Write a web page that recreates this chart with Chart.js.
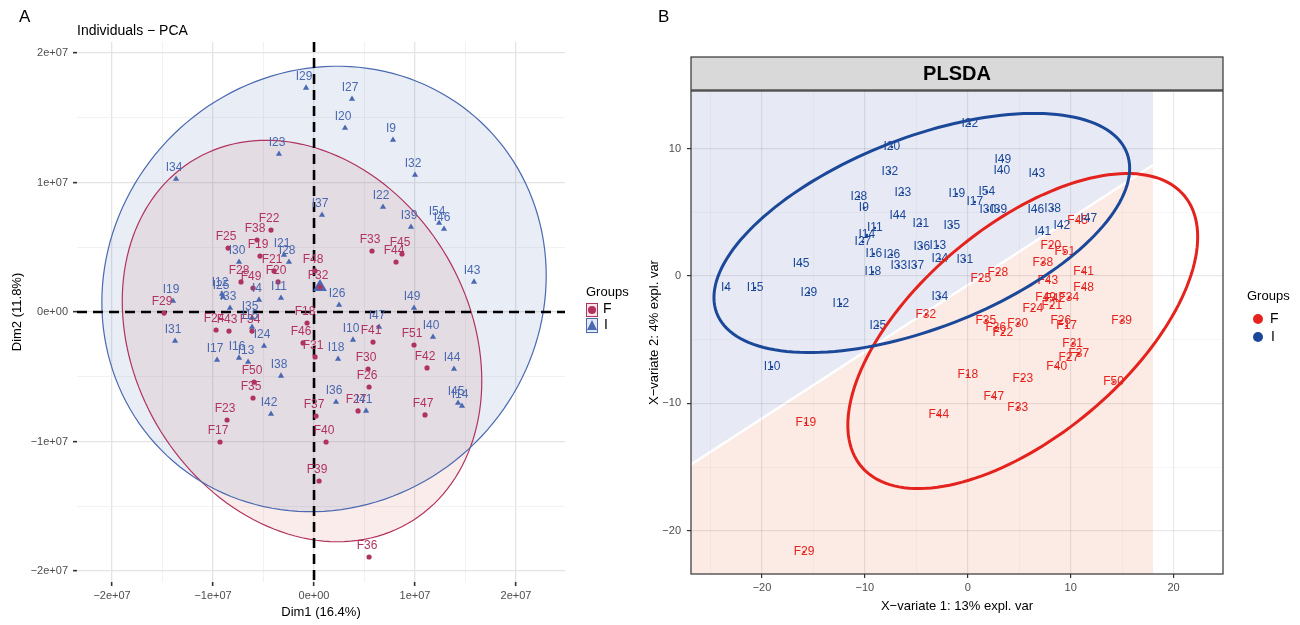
<!DOCTYPE html>
<html>
<head>
<meta charset="utf-8">
<script src="https://cdn.jsdelivr.net/npm/chart.js@4.4.0/dist/chart.umd.min.js"></script>
<style>
body { margin: 0; background: #fff; }
#wrap { position: relative; width: 1300px; height: 625px; }
canvas { position: absolute; top: 0; }
</style>
</head>
<body>
<div id="wrap">
<canvas id="pca_chart" width="640" height="625" style="left:0px"></canvas>
<canvas id="plsda_chart" width="660" height="625" style="left:640px"></canvas>
</div>
<script>
// ---- PCA (panel A), values in millions ----
var pcaFNames = ["F22","F38","F25","F33","F45","F44","F19","F21","F20","F28","F49","F29","F48","F32","F18","F24","F43","F34","F46","F31","F41","F51","F42","F30","F26","F50","F35","F27","F37","F47","F23","F17","F40","F39","F36"];
var pcaFX = [-4.26,-5.64,-8.51,5.74,8.71,8.12,-5.35,-3.96,-3.56,-7.23,-6.04,-14.85,0.10,0.59,-0.69,-9.70,-8.42,-6.14,-1.09,0.10,5.84,9.90,11.19,5.35,5.45,-5.94,-6.04,4.36,0.20,10.99,-8.61,-9.31,1.19,0.50,5.45];
var pcaFY = [6.33,5.56,4.94,4.71,4.48,3.86,4.32,3.17,2.32,2.32,1.85,-0.08,3.17,1.93,-0.85,-1.39,-1.47,-1.47,-2.39,-3.47,-2.32,-2.55,-4.32,-4.40,-5.79,-5.41,-6.64,-7.64,-8.03,-7.95,-8.34,-10.04,-10.04,-13.05,-18.92];

var pcaINames = ["I29","I27","I20","I9","I23","I32","I34","I22","I37","I39","I54","I46","I30","I21","I28","I12","I25","I4","I11","I33","I19","I26","I49","I43","I35","I15","I47","I31","I24","I10","I40","I17","I16","I13","I18","I44","I38","I36","I41","I42","I45","I14"];
var pcaIX = [-0.79,3.76,3.07,7.82,-3.47,10.00,-13.66,6.83,0.79,9.60,12.38,12.87,-7.43,-2.97,-2.48,-9.11,-9.01,-5.45,-3.27,-8.32,-13.96,2.48,9.90,15.84,-6.14,-6.14,6.44,-13.76,-4.95,3.86,11.78,-9.60,-7.43,-6.53,2.38,13.86,-3.27,2.18,5.15,-4.26,14.26,14.65];
var pcaIY = [17.30,16.45,14.21,13.28,12.20,10.58,10.27,8.11,7.49,6.56,6.87,6.41,3.86,4.40,3.86,1.39,1.16,0.93,1.08,0.31,0.85,0.54,0.31,2.32,-0.46,-1.16,-1.16,-2.24,-2.63,-2.16,-1.93,-3.71,-3.55,-3.86,-3.63,-4.40,-4.94,-6.95,-7.64,-7.88,-7.03,-7.26];

var pcaIMean = [0.59, 1.93];

// confidence ellipses: [F, I]
var pcaEllCx = [-1.19, 0.99];
var pcaEllCy = [-2.24, 1.78];
var pcaEllRx = [17.8, 22.0];
var pcaEllRy = [15.5, 17.2];
var pcaEllPhi = [-0.2, 0.06];

// ---- PLSDA (panel B) ----
var plsdaFNames = ["F45","F20","F51","F38","F28","F25","F41","F43","F48","F49","F42","F34","F24","F21","F32","F35","F36","F22","F30","F26","F17","F39","F31","F37","F27","F40","F18","F23","F50","F47","F33","F44","F19","F29"];
var plsdaFX = [10.68,8.06,9.42,7.28,2.91,1.26,11.26,7.77,11.26,7.57,8.45,9.81,6.31,8.16,-4.08,1.75,2.72,3.40,4.85,9.03,9.61,14.95,10.19,10.78,9.81,8.64,0.00,5.34,14.17,2.52,4.85,-2.82,-15.73,-15.92];
var plsdaFY = [4.32,2.36,1.89,1.02,0.24,-0.24,0.31,-0.39,-0.94,-1.73,-1.81,-1.73,-2.59,-2.36,-3.06,-3.53,-4.08,-4.48,-3.77,-3.53,-3.93,-3.53,-5.34,-6.13,-6.44,-7.15,-7.78,-8.09,-8.33,-9.51,-10.37,-10.92,-11.55,-21.68];

var plsdaINames = ["I22","I20","I32","I28","I23","I19","I9","I44","I11","I14","I21","I35","I27","I16","I26","I36","I13","I33","I37","I24","I31","I45","I18","I4","I15","I29","I12","I34","I25","I10","I49","I40","I43","I54","I17","I30","I39","I46","I38","I42","I41","I47"];
var plsdaIX = [0.19,-7.38,-7.57,-10.58,-6.31,-1.07,-10.10,-6.80,-9.03,-9.81,-4.56,-1.55,-10.19,-9.13,-7.38,-4.47,-2.91,-6.70,-5.05,-2.72,-0.29,-16.21,-9.22,-23.50,-20.68,-15.44,-12.33,-2.72,-8.74,-19.03,3.40,3.30,6.70,1.84,0.68,1.94,3.01,6.60,8.25,9.13,7.28,11.75];
var plsdaIY = [11.94,10.13,8.17,6.21,6.52,6.44,5.34,4.71,3.77,3.22,4.08,3.93,2.67,1.73,1.65,2.28,2.36,0.79,0.79,1.34,1.26,0.94,0.31,-0.94,-0.94,-1.34,-2.20,-1.65,-3.93,-7.15,9.11,8.25,8.01,6.60,5.81,5.18,5.18,5.18,5.26,3.93,3.46,4.48];

var plsdaEllCx = [5.34, -4.47];
var plsdaEllCy = [-4.32, 3.38];
var plsdaEllRx = [17.0, 20.2];
var plsdaEllRy = [12.37, 9.39];
var plsdaEllPhi = [0.64, 0.57];

// prediction background: boundary line and right limit
var plsdaBoundaryX = [-27, 18];
var plsdaBoundaryY = [-14.85, 8.72];

var FONT = "'Liberation Sans', Arial, sans-serif";
Chart.defaults.font.family = FONT;
Chart.defaults.animation = false;

var colFA = '#B0335F';
var colIA = '#4A69B0';
var colFB = '#E5231E';
var colIB = '#1B4899';

function toPoints(xs, ys) {
    var out = [];
    for (var i = 0; i < xs.length; i++) {
        out.push({x: xs[i], y: ys[i]});
    }
    return out;
}

function ellipsePath(ctx, sx, sy, cx, cy, rx, ry, phi) {
    ctx.beginPath();
    for (var i = 0; i <= 160; i++) {
        var t = i / 160 * Math.PI * 2;
        var px = sx.getPixelForValue(cx + rx * Math.cos(t));
        var py = sy.getPixelForValue(cy + ry * Math.sin(t + phi));
        if (i == 0) ctx.moveTo(px, py);
        else ctx.lineTo(px, py);
    }
    ctx.closePath();
}

function isMajor(c) {
    return c.tick && Math.round(c.tick.value) % 10 === 0;
}

function pcaTick(value) {
    if (Math.round(value) % 10 !== 0) return '';
    if (value === 0) return '0e+00';
    var n = Math.abs(value) / 10;
    return (value < 0 ? '\u2212' : '') + n + 'e+07';
}

function plainTick(value) {
    if (Math.round(value) % 10 !== 0) return '';
    return value < 0 ? '\u2212' + Math.abs(value) : String(value);
}

// ---------- panel A ----------
var pcaPlugin = {
    id: 'pcaExtras',
    beforeDatasetsDraw: function(chart) {
        var ctx = chart.ctx;
        var sx = chart.scales.x, sy = chart.scales.y;
        var area = chart.chartArea;
        var fills = ['rgba(205,95,85,0.12)', 'rgba(70,105,185,0.12)'];
        var strokes = [colFA, colIA];
        ctx.save();
        for (var g = 0; g < 2; g++) {
            ellipsePath(ctx, sx, sy, pcaEllCx[g], pcaEllCy[g], pcaEllRx[g], pcaEllRy[g], pcaEllPhi[g]);
            ctx.fillStyle = fills[g];
            ctx.fill();
        }
        for (var g = 0; g < 2; g++) {
            ellipsePath(ctx, sx, sy, pcaEllCx[g], pcaEllCy[g], pcaEllRx[g], pcaEllRy[g], pcaEllPhi[g]);
            ctx.strokeStyle = strokes[g];
            ctx.lineWidth = 1.2;
            ctx.stroke();
        }
        // dashed zero lines
        ctx.strokeStyle = '#000';
        ctx.lineWidth = 2.6;
        ctx.setLineDash([10, 6]);
        var x0 = sx.getPixelForValue(0), y0 = sy.getPixelForValue(0);
        ctx.beginPath();
        ctx.moveTo(x0, area.top); ctx.lineTo(x0, area.bottom);
        ctx.moveTo(area.left, y0); ctx.lineTo(area.right, y0);
        ctx.stroke();
        ctx.restore();
    },
    afterDatasetsDraw: function(chart) {
        var ctx = chart.ctx;
        ctx.save();
        ctx.font = '12px ' + FONT;
        ctx.textAlign = 'center';
        ctx.textBaseline = 'middle';
        chart.data.datasets.forEach(function(ds, di) {
            if (!ds.names) return;
            var meta = chart.getDatasetMeta(di);
            ctx.fillStyle = ds.labelColor;
            for (var i = 0; i < ds.names.length; i++) {
                var el = meta.data[i];
                ctx.fillText(ds.names[i], el.x - 2, el.y - 11);
            }
        });
        ctx.restore();
    },
    afterDraw: function(chart) {
        var ctx = chart.ctx;
        ctx.save();
        ctx.fillStyle = '#000';
        ctx.textBaseline = 'middle';
        ctx.textAlign = 'left';
        ctx.font = '17px ' + FONT;
        ctx.fillText('A', 19, 17);
        ctx.font = '14px ' + FONT;
        ctx.fillText('Individuals \u2212 PCA', 77, 31);
        // legend
        ctx.font = '13px ' + FONT;
        ctx.fillText('Groups', 586, 292);
        ctx.fillStyle = 'rgba(205,95,85,0.15)';
        ctx.fillRect(586.5, 303.5, 11, 13);
        ctx.strokeStyle = colFA;
        ctx.lineWidth = 1;
        ctx.strokeRect(586.5, 303.5, 11, 13);
        ctx.fillStyle = colFA;
        ctx.beginPath();
        ctx.arc(592, 310, 4, 0, Math.PI * 2);
        ctx.fill();
        ctx.fillStyle = 'rgba(70,105,185,0.15)';
        ctx.fillRect(586.5, 318.5, 11, 14);
        ctx.strokeStyle = colIA;
        ctx.strokeRect(586.5, 318.5, 11, 14);
        ctx.fillStyle = colIA;
        ctx.beginPath();
        ctx.moveTo(592, 320); ctx.lineTo(597, 330); ctx.lineTo(587, 330);
        ctx.closePath();
        ctx.fill();
        ctx.fillStyle = '#000';
        ctx.font = '14px ' + FONT;
        ctx.fillText('F', 603, 309);
        ctx.fillText('I', 604, 325);
        ctx.restore();
    }
};

var pcaAxisText = {size: 11};

new Chart(document.getElementById('pca_chart').getContext('2d'), {
    type: 'scatter',
    data: {
        datasets: [{
            data: toPoints(pcaFX, pcaFY),
            names: pcaFNames,
            labelColor: colFA,
            pointStyle: 'circle',
            pointRadius: 2.6,
            backgroundColor: colFA,
            borderWidth: 0
        }, {
            data: toPoints(pcaIX, pcaIY),
            names: pcaINames,
            labelColor: colIA,
            pointStyle: 'triangle',
            pointRadius: 3.6,
            backgroundColor: colIA,
            borderWidth: 0
        }, {
            data: [{x: pcaIMean[0], y: pcaIMean[1]}],
            pointStyle: 'triangle',
            pointRadius: 8,
            backgroundColor: colIA,
            borderWidth: 0
        }]
    },
    options: {
        responsive: false,
        devicePixelRatio: 1,
        layout: { padding: { left: 0, top: 42, right: 75, bottom: 0 } },
        plugins: { legend: { display: false }, tooltip: { enabled: false } },
        scales: {
            x: {
                type: 'linear',
                min: -23.47,
                max: 24.85,
                afterFit: function(s) { s.height = 43; },
                border: { display: false },
                grid: {
                    color: function(c) { return isMajor(c) ? '#E4E4E4' : '#EDEDED'; },
                    lineWidth: function(c) { return isMajor(c) ? 1.3 : 0.7; },
                    tickColor: function(c) { return isMajor(c) ? '#333' : 'rgba(0,0,0,0)'; },
                    tickWidth: 1.6,
                    tickLength: 4
                },
                ticks: {
                    stepSize: 5, includeBounds: false, autoSkip: false, maxRotation: 0,
                    padding: 3, color: '#4D4D4D', font: pcaAxisText, callback: pcaTick
                },
                title: { display: true, text: 'Dim1 (16.4%)', color: '#000', font: {size: 13}, padding: {top: 0, bottom: 5} }
            },
            y: {
                type: 'linear',
                min: -20.85,
                max: 20.85,
                afterFit: function(s) { s.width = 77; },
                border: { display: false },
                grid: {
                    color: function(c) { return isMajor(c) ? '#E4E4E4' : '#EDEDED'; },
                    lineWidth: function(c) { return isMajor(c) ? 1.3 : 0.7; },
                    tickColor: function(c) { return isMajor(c) ? '#333' : 'rgba(0,0,0,0)'; },
                    tickWidth: 1.6,
                    tickLength: 4
                },
                ticks: {
                    stepSize: 5, includeBounds: false, autoSkip: false,
                    padding: 5, color: '#4D4D4D', font: pcaAxisText, callback: pcaTick
                },
                title: { display: true, text: 'Dim2 (11.8%)', color: '#000', font: {size: 13}, padding: {top: 10, bottom: 0} }
            }
        }
    },
    plugins: [pcaPlugin]
});

// ---------- panel B ----------
var plsdaPlugin = {
    id: 'plsdaExtras',
    beforeDraw: function(chart) {
        var ctx = chart.ctx;
        var sx = chart.scales.x, sy = chart.scales.y;
        var area = chart.chartArea;
        var xl = sx.getPixelForValue(plsdaBoundaryX[0]);
        var xr = sx.getPixelForValue(plsdaBoundaryX[1]);
        var yl = sy.getPixelForValue(plsdaBoundaryY[0]);
        var yr = sy.getPixelForValue(plsdaBoundaryY[1]);
        ctx.save();
        ctx.beginPath();
        ctx.rect(area.left, area.top, area.right - area.left, area.bottom - area.top);
        ctx.clip();
        ctx.fillStyle = '#E7EAF4';
        ctx.beginPath();
        ctx.moveTo(xl, area.top); ctx.lineTo(xr, area.top); ctx.lineTo(xr, yr); ctx.lineTo(xl, yl);
        ctx.closePath();
        ctx.fill();
        ctx.fillStyle = '#FCEAE4';
        ctx.beginPath();
        ctx.moveTo(xl, yl); ctx.lineTo(xr, yr); ctx.lineTo(xr, area.bottom); ctx.lineTo(xl, area.bottom);
        ctx.closePath();
        ctx.fill();
        ctx.strokeStyle = '#fff';
        ctx.lineWidth = 2.5;
        ctx.beginPath();
        ctx.moveTo(xl, yl); ctx.lineTo(xr, yr);
        ctx.stroke();
        ctx.restore();
    },
    afterDatasetsDraw: function(chart) {
        var ctx = chart.ctx;
        var sx = chart.scales.x, sy = chart.scales.y;
        ctx.save();
        ctx.font = '12px ' + FONT;
        ctx.textAlign = 'center';
        ctx.textBaseline = 'middle';
        chart.data.datasets.forEach(function(ds, di) {
            var meta = chart.getDatasetMeta(di);
            ctx.fillStyle = ds.labelColor;
            for (var i = 0; i < ds.names.length; i++) {
                var el = meta.data[i];
                ctx.fillText(ds.names[i], el.x, el.y);
            }
        });
        var strokes = [colFB, colIB];
        for (var g = 0; g < 2; g++) {
            ellipsePath(ctx, sx, sy, plsdaEllCx[g], plsdaEllCy[g], plsdaEllRx[g], plsdaEllRy[g], plsdaEllPhi[g]);
            ctx.strokeStyle = strokes[g];
            ctx.lineWidth = 3;
            ctx.stroke();
        }
        ctx.restore();
    },
    afterDraw: function(chart) {
        var ctx = chart.ctx;
        var area = chart.chartArea;
        ctx.save();
        ctx.strokeStyle = '#333';
        ctx.lineWidth = 1.2;
        ctx.strokeRect(area.left, area.top, area.right - area.left, area.bottom - area.top);
        // strip
        ctx.fillStyle = '#D9D9D9';
        ctx.fillRect(area.left, 57, area.right - area.left, area.top - 58);
        ctx.strokeRect(area.left, 57, area.right - area.left, area.top - 58);
        ctx.fillStyle = '#000';
        ctx.textAlign = 'center';
        ctx.textBaseline = 'middle';
        ctx.font = 'bold 20px ' + FONT;
        ctx.fillText('PLSDA', (area.left + area.right) / 2, 74);
        ctx.textAlign = 'left';
        ctx.font = '17px ' + FONT;
        ctx.fillText('B', 18, 17);
        // legend
        ctx.font = '13px ' + FONT;
        ctx.fillText('Groups', 607, 296);
        ctx.fillStyle = colFB;
        ctx.beginPath(); ctx.arc(618, 319, 5, 0, Math.PI * 2); ctx.fill();
        ctx.fillStyle = colIB;
        ctx.beginPath(); ctx.arc(618, 337, 5, 0, Math.PI * 2); ctx.fill();
        ctx.fillStyle = '#000';
        ctx.font = '14px ' + FONT;
        ctx.fillText('F', 630, 319);
        ctx.fillText('I', 631, 337);
        ctx.restore();
    }
};

var plsdaGrid = {
    color: function(c) { return isMajor(c) ? 'rgba(0,0,0,0.085)' : 'rgba(0,0,0,0.05)'; },
    lineWidth: function(c) { return isMajor(c) ? 1.2 : 0.6; },
    tickColor: function(c) { return isMajor(c) ? '#333' : 'rgba(0,0,0,0)'; },
    tickWidth: 1.2,
    tickLength: 4
};

new Chart(document.getElementById('plsda_chart').getContext('2d'), {
    type: 'scatter',
    data: {
        datasets: [{
            data: toPoints(plsdaFX, plsdaFY),
            names: plsdaFNames,
            labelColor: colFB,
            pointRadius: 1.3,
            backgroundColor: colFB,
            borderWidth: 0
        }, {
            data: toPoints(plsdaIX, plsdaIY),
            names: plsdaINames,
            labelColor: colIB,
            pointRadius: 1.3,
            backgroundColor: colIB,
            borderWidth: 0
        }]
    },
    options: {
        responsive: false,
        devicePixelRatio: 1,
        layout: { padding: { left: 0, top: 91, right: 77, bottom: 0 } },
        plugins: { legend: { display: false }, tooltip: { enabled: false } },
        scales: {
            x: {
                type: 'linear',
                min: -26.9,
                max: 24.8,
                afterFit: function(s) { s.height = 51; },
                border: { display: false },
                grid: plsdaGrid,
                ticks: {
                    stepSize: 5, includeBounds: false, autoSkip: false, maxRotation: 0,
                    padding: 3, color: '#4D4D4D', font: {size: 11}, callback: plainTick
                },
                title: { display: true, text: 'X\u2212variate 1: 13% expl. var', color: '#000', font: {size: 13}, padding: {top: 0, bottom: 11} }
            },
            y: {
                type: 'linear',
                min: -23.4,
                max: 14.53,
                afterFit: function(s) { s.width = 51; },
                border: { display: false },
                grid: plsdaGrid,
                ticks: {
                    stepSize: 5, includeBounds: false, autoSkip: false,
                    padding: 6, color: '#4D4D4D', font: {size: 11}, callback: plainTick
                },
                title: { display: true, text: 'X\u2212variate 2: 4% expl. var', color: '#000', font: {size: 13}, padding: {top: 7, bottom: 0} }
            }
        }
    },
    plugins: [plsdaPlugin]
});
</script>
</body>
</html>
